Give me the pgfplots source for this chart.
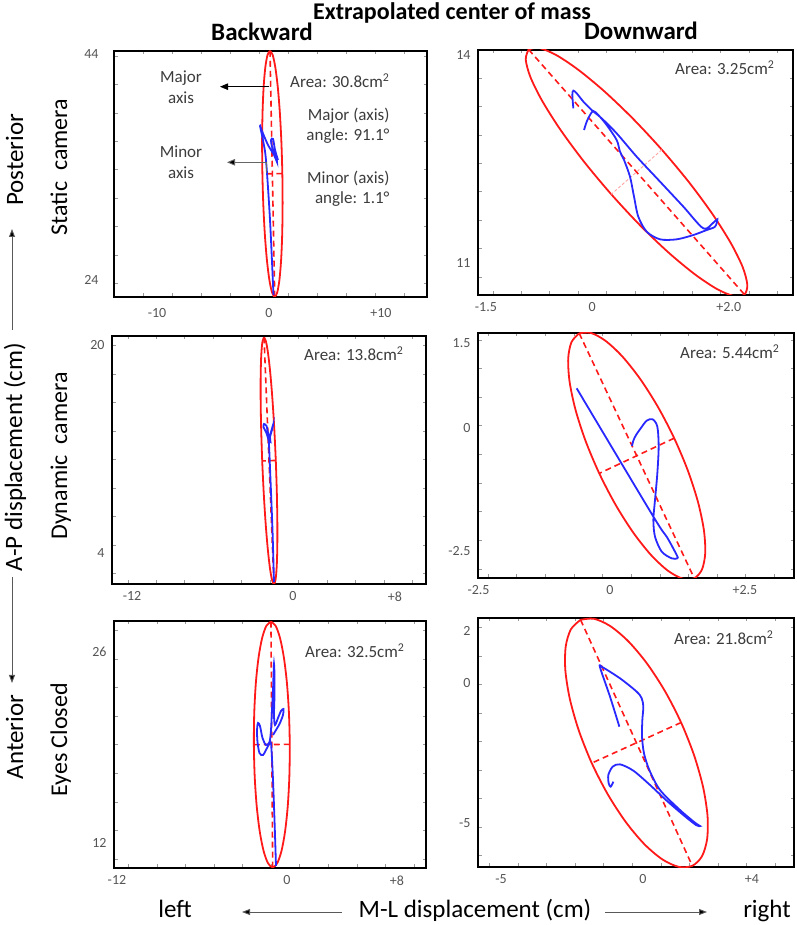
\documentclass[border=0pt]{standalone}
\usepackage{fontspec}
\setmainfont{Carlito}
\usepackage{pgfplots}
\pgfplotsset{compat=1.18}
\usetikzlibrary{arrows.meta}
\definecolor{ell}{RGB}{255,25,25}
\definecolor{trc}{RGB}{40,40,255}
\definecolor{tg}{RGB}{85,85,85}
\definecolor{ann}{RGB}{60,60,60}
\newcommand{\fs}[1]{\fontsize{#1}{#1}\selectfont}
\pgfplotsset{
  panel/.style={scale only axis, anchor=south west,
    axis line style={line width=1.9pt},
    major tick length=0pt, minor tick length=3.5pt, tick align=inside,
    minor tick style={black!40, line width=0.6pt},
    xticklabel style={font=\fs{14}, text=tg, yshift=-4pt},
    yticklabel style={font=\fs{14}, text=tg, xshift=-4pt},
    /pgf/number format/assume math mode=true},
  ellp/.style={ell, line width=1.8pt, smooth, no marks},
  maj/.style={ell, line width=1.6pt, dash pattern=on 6pt off 4pt, no marks},
  trace/.style={trc, line width=1.8pt, smooth, no marks}
}
\begin{document}
\begin{tikzpicture}
\useasboundingbox (0pt,0pt) rectangle (796pt,925pt);

% ---------------- Top left: Static camera, Backward
\begin{axis}[panel, at={(114pt,628pt)}, width=313pt, height=246pt,
  xmin=-13.839, xmax=14.107, ymin=22.304, ymax=44.268,
  xtick={-10,0,10}, xticklabels={-10,0,+10},
  ytick={23.8,44}, yticklabels={24,44},
  minor xtick={-11.25,-8.66,...,14}, minor ytick={23.5,26.04,...,44},
  yticklabel style={xshift=-8pt}, xticklabel style={yshift=-4pt}]
\addplot[ellp] coordinates {(0.089,44.288) (0.327,43.918) (0.562,42.826) (0.780,41.085) (0.965,38.814) (1.105,36.167) (1.190,33.327) (1.214,30.485) (1.176,27.836) (1.079,25.559) (0.928,23.811) (0.734,22.710) (0.511,22.332) (0.274,22.706) (0.038,23.794) (-0.180,25.535) (-0.365,27.806) (-0.505,30.453) (-0.590,33.293) (-0.614,36.135) (-0.576,38.784) (-0.479,41.061) (-0.328,42.809) (-0.134,43.910) (0.089,44.288)};
\addplot[maj] coordinates {(0.089,44.288) (0.511,22.332)};
\addplot[maj] coordinates {(1.190,33.327) (-0.590,33.293)};
\addplot[trace] coordinates {(0.40,22.48) (0.09,29.18) (-0.27,34.54) (-0.54,36.32) (-0.80,37.57) (-0.63,37.13) (-0.09,35.88) (0.45,34.98) (0.71,34.36) (0.63,34.71) (0.27,35.70) (0.18,36.32) (0.36,36.41) (0.54,35.43) (0.80,34.54)};
\end{axis}

% ---------------- Top right: Static camera, Downward
\begin{axis}[panel, at={(478pt,630pt)}, width=315pt, height=245pt,
  xmin=-1.614, xmax=2.925, ymin=10.542, ymax=14.072,
  xtick={-1.5,0.03,2.0}, xticklabels={-1.5,0,+2.0},
  ytick={11,14}, yticklabels={11,14},
  minor xtick={-1.4,-0.99,...,2.9}, minor ytick={10.8,11.21,...,14}]
\addplot[ellp] coordinates {(-0.885,14.079) (-0.738,14.102) (-0.494,14.003) (-0.172,13.789) (0.208,13.475) (0.620,13.081) (1.035,12.635) (1.425,12.168) (1.763,11.710) (2.027,11.293) (2.199,10.946) (2.266,10.692) (2.225,10.549) (2.078,10.526) (1.834,10.625) (1.512,10.839) (1.132,11.153) (0.720,11.547) (0.306,11.993) (-0.085,12.461) (-0.423,12.918) (-0.687,13.335) (-0.859,13.682) (-0.926,13.936) (-0.885,14.079)};
\addplot[maj] coordinates {(-0.885,14.079) (2.225,10.549)};
\addplot[ell!40, line width=0.9pt, dash pattern=on 3pt off 2pt, no marks] coordinates {(1.035,12.635) (0.306,11.993)};
\addplot[trace] coordinates {(-0.240,13.232) (-0.255,13.424) (-0.240,13.486) (-0.192,13.448) (-0.096,13.328) (0.024,13.207) (0.168,13.087) (0.384,12.871) (0.672,12.535) (1.009,12.175) (1.345,11.815) (1.633,11.502) (1.777,11.584) (1.835,11.632) (1.801,11.526) (1.681,11.478) (1.489,11.406) (1.249,11.344) (1.009,11.344) (0.817,11.454) (0.696,11.670) (0.634,11.959) (0.576,12.247) (0.490,12.487) (0.432,12.607) (0.384,12.775) (0.240,12.991) (0.120,13.135) (0.048,13.193) (0.000,13.135) (-0.048,13.039) (-0.086,12.919)};
\end{axis}

% ---------------- Middle left: Dynamic camera, Backward
\begin{axis}[panel, at={(112pt,341pt)}, width=314pt, height=248pt,
  xmin=-13.716, xmax=10.345, ymin=1.686, ymax=20.690,
  xtick={-12.18,0.15,7.97}, xticklabels={-12,0,+8},
  ytick={4.06,20}, yticklabels={4,20},
  minor xtick={-12.5,-10.32,...,10.3}, minor ytick={2.5,4.68,...,20.6}]
\addplot[ellp] coordinates {(-2.065,20.586) (-1.917,20.269) (-1.754,19.330) (-1.586,17.833) (-1.425,15.878) (-1.282,13.600) (-1.166,11.155) (-1.086,8.708) (-1.046,6.426) (-1.050,4.465) (-1.098,2.960) (-1.185,2.009) (-1.307,1.682) (-1.455,1.999) (-1.618,2.939) (-1.786,4.435) (-1.947,6.390) (-2.090,8.668) (-2.206,11.113) (-2.286,13.560) (-2.326,15.842) (-2.322,17.803) (-2.274,19.309) (-2.187,20.259) (-2.065,20.586)};
\addplot[maj] coordinates {(-2.065,20.586) (-1.307,1.682)};
\addplot[maj] coordinates {(-1.166,11.155) (-2.206,11.113)};
\addplot[trace] coordinates {(-1.303,1.839) (-1.418,5.824) (-1.571,9.655) (-1.686,12.337) (-1.762,12.874) (-1.916,13.333) (-2.107,13.716) (-2.069,13.946) (-1.877,13.793) (-1.762,13.257) (-1.686,12.874) (-1.533,13.333) (-1.379,13.870) (-1.456,13.487) (-1.609,12.950) (-1.571,12.567) (-1.648,12.644)};
\end{axis}

% ---------------- Middle right: Dynamic camera, Downward
\begin{axis}[panel, at={(478pt,347pt)}, width=316pt, height=245pt,
  xmin=-2.491, xmax=3.472, ymin=-2.972, ymax=1.651,
  xtick={-2.48,0,2.547}, xticklabels={-2.5,0,+2.5},
  ytick={-2.462,-0.142,1.462}, yticklabels={-2.5,0,1.5},
  minor xtick={-2.3,-1.76,...,3.4}, minor ytick={-2.8,-2.26,...,1.6}]
\addplot[ellp] coordinates {(-0.581,1.645) (-0.361,1.652) (-0.082,1.501) (0.237,1.203) (0.574,0.777) (0.906,0.253) (1.211,-0.334) (1.468,-0.943) (1.659,-1.534) (1.771,-2.065) (1.797,-2.501) (1.735,-2.812) (1.589,-2.977) (1.369,-2.984) (1.090,-2.833) (0.771,-2.535) (0.434,-2.109) (0.102,-1.585) (-0.203,-0.998) (-0.460,-0.389) (-0.651,0.202) (-0.763,0.733) (-0.789,1.169) (-0.727,1.480) (-0.581,1.645)};
\addplot[maj] coordinates {(-0.581,1.645) (1.589,-2.977)};
\addplot[maj] coordinates {(1.211,-0.334) (-0.203,-0.998)};
\addplot[trace] coordinates {(-0.629,0.607) (0.818,-1.814) (1.069,-2.192) (1.258,-2.538) (1.270,-2.601) (1.164,-2.601) (0.975,-2.475) (0.849,-2.192) (0.818,-1.877) (0.849,-1.500) (0.893,-0.997) (0.918,-0.494) (0.893,-0.116) (0.805,0.022) (0.692,-0.003) (0.579,-0.148) (0.491,-0.274) (0.440,-0.381) (0.415,-0.481)};
\end{axis}

% ---------------- Bottom left: Eyes closed, Backward
\begin{axis}[panel, at={(114pt,57pt)}, width=312pt, height=247pt,
  xmin=-12.536, xmax=10.072, ymin=10.348, ymax=28.246,
  xtick={-12.32,0,7.97}, xticklabels={-12,0,+8},
  ytick={12.16,26}, yticklabels={12,26},
  minor xtick={-11.5,-9.43,...,10}, minor ytick={11,13.07,...,28.2}]
\addplot[ellp] coordinates {(-1.163,28.197) (-0.825,27.896) (-0.505,27.009) (-0.226,25.597) (-0.006,23.755) (0.139,21.609) (0.199,19.306) (0.171,17.002) (0.056,14.855) (-0.138,13.010) (-0.397,11.594) (-0.705,10.703) (-1.039,10.397) (-1.378,10.699) (-1.697,11.585) (-1.976,12.998) (-2.196,14.839) (-2.341,16.985) (-2.401,19.288) (-2.373,21.592) (-2.258,23.740) (-2.064,25.584) (-1.805,27.000) (-1.497,27.894) (-1.163,28.197)};
\addplot[maj] coordinates {(-1.163,28.197) (-1.039,10.397)};
\addplot[maj] coordinates {(0.199,19.306) (-2.401,19.288)};
\addplot[trace] coordinates {(-0.797,10.493) (-0.906,13.826) (-1.014,16.725) (-1.123,18.899) (-1.196,19.478) (-1.449,19.043) (-1.739,18.536) (-1.993,18.681) (-2.138,19.478) (-2.174,20.348) (-2.101,20.855) (-1.957,20.638) (-1.775,19.768) (-1.522,19.261) (-1.268,19.478) (-1.159,20.348) (-1.087,21.797) (-1.014,23.246) (-0.978,24.333) (-0.942,25.130) (-0.906,24.333) (-0.906,22.884) (-0.942,21.435) (-0.870,20.710) (-0.652,21.217) (-0.435,21.725) (-0.254,21.870) (-0.290,21.435) (-0.543,20.783) (-0.797,20.348) (-1.014,19.986)};
\end{axis}

% ---------------- Bottom right: Eyes closed, Downward
\begin{axis}[panel, at={(478pt,58pt)}, width=316pt, height=249pt,
  xmin=-5.921, xmax=5.487, ymin=-6.606, ymax=2.383,
  xtick={-5.09,0.036,3.97}, xticklabels={-5,0,+4},
  ytick={-5.018,0.036,1.913}, yticklabels={-5,0,2},
  minor xtick={-5.5,-4.47,...,5.4}, minor ytick={-6.2,-5.17,...,2.3}]
\addplot[ellp] coordinates {(-2.218,2.317) (-1.732,2.355) (-1.142,2.088) (-0.487,1.534) (0.186,0.731) (0.834,-0.267) (1.411,-1.391) (1.877,-2.565) (2.202,-3.709) (2.364,-4.745) (2.350,-5.602) (2.163,-6.222) (1.814,-6.563) (1.328,-6.601) (0.738,-6.334) (0.083,-5.780) (-0.590,-4.977) (-1.238,-3.979) (-1.815,-2.855) (-2.281,-1.681) (-2.606,-0.537) (-2.768,0.499) (-2.754,1.356) (-2.567,1.976) (-2.218,2.317)};
\addplot[maj] coordinates {(-2.218,2.317) (1.814,-6.563)};
\addplot[maj] coordinates {(1.411,-1.391) (-1.815,-2.855)};
\addplot[trace] coordinates {(-0.818,-1.540) (-1.155,-0.457) (-1.516,0.602) (-1.420,0.602) (-0.794,0.205) (-0.192,-0.277) (-0.012,-0.517) (0.048,-0.818) (0.012,-1.300) (0.000,-1.901) (0.072,-2.503) (0.265,-3.105) (0.650,-3.827) (1.372,-4.549) (1.913,-5.006) (2.094,-5.126) (1.949,-5.090) (1.492,-4.729) (0.891,-4.212) (0.289,-3.646) (-0.313,-3.129) (-0.794,-2.900) (-1.059,-2.984) (-1.215,-3.285) (-1.203,-3.586) (-1.131,-3.706) (-1.035,-3.526)};
\end{axis}

% ---------------- titles
\node[font=\bfseries\fs{24}, anchor=base] at (452pt,905pt) {Extrapolated center of mass};
\node[font=\bfseries\fs{25}, anchor=base] at (262pt,884pt) {Backward};
\node[font=\bfseries\fs{25}, anchor=base] at (641pt,885pt) {Downward};

% ---------------- row labels
\node[rotate=90, anchor=base, font=\fs{24}] at (67pt,758pt) {Static\ \ camera};
\node[rotate=90, anchor=base, font=\fs{24}] at (67pt,469pt) {Dynamic\ \ camera};
\node[rotate=90, anchor=base, font=\fs{24}] at (67pt,185pt) {Eyes Closed};
\node[rotate=90, anchor=base, font=\fs{25}] at (23pt,765pt) {Posterior};
\node[rotate=90, anchor=base, font=\fs{25}] at (22pt,468pt) {A-P displacement (cm)};
\node[rotate=90, anchor=base, font=\fs{25}] at (23pt,188pt) {Anterior};
\draw[black!65, line width=0.9pt, -{Triangle[length=8pt,width=6pt,fill=black]}] (12pt,595pt) -- (12pt,696pt);
\draw[black!65, line width=0.9pt, -{Triangle[length=8pt,width=6pt,fill=black]}] (12pt,348pt) -- (12pt,242pt);

% ---------------- bottom labels
\node[anchor=base, font=\fs{25}] at (175pt,7pt) {left};
\node[anchor=base, font=\fs{25}] at (475pt,7pt) {M-L displacement (cm)};
\node[anchor=base, font=\fs{25}] at (767pt,7pt) {right};
\draw[black!65, line width=0.9pt, -{Triangle[length=8pt,width=6pt,fill=black]}] (342pt,13pt) -- (242pt,13pt);
\draw[black!65, line width=0.9pt, -{Triangle[length=8pt,width=6pt,fill=black]}] (605pt,13pt) -- (707pt,13pt);

% ---------------- annotations
\node[align=center, font=\fontsize{17}{21}\selectfont, text=ann] at (181pt,838pt) {Major\\axis};
\node[align=center, font=\fontsize{17}{21}\selectfont, text=ann] at (181pt,763pt) {Minor\\axis};
\draw[black, line width=0.9pt, -{Triangle[length=8pt,width=6.5pt]}] (269pt,838.3pt) -- (220pt,838.3pt);
\draw[black!60, line width=0.9pt, -{Triangle[length=8pt,width=6.5pt,fill=black]}] (266.7pt,751.7pt) -- (266.7pt,762.7pt) -- (227pt,762.7pt);
\node[anchor=east, font=\fs{17}, text=ann] at (393pt,844.3pt) {Area: 30.8cm\textsuperscript{2}};
\node[anchor=east, align=right, font=\fontsize{17}{20.5}\selectfont, text=ann] at (393pt,799pt) {Major (axis)\\angle: 91.1°};
\node[anchor=east, align=right, font=\fontsize{17}{20.5}\selectfont, text=ann] at (393pt,736.3pt) {Minor (axis)\\angle: 1.1°};
\node[anchor=east, font=\fs{17}, text=ann] at (778pt,857pt) {Area: 3.25cm\textsuperscript{2}};
\node[anchor=east, font=\fs{17}, text=ann] at (407pt,571pt) {Area: 13.8cm\textsuperscript{2}};
\node[anchor=east, font=\fs{17}, text=ann] at (783pt,573pt) {Area: 5.44cm\textsuperscript{2}};
\node[anchor=east, font=\fs{17}, text=ann] at (408pt,274pt) {Area: 32.5cm\textsuperscript{2}};
\node[anchor=east, font=\fs{17}, text=ann] at (777pt,287pt) {Area: 21.8cm\textsuperscript{2}};
\end{tikzpicture}
\end{document}
